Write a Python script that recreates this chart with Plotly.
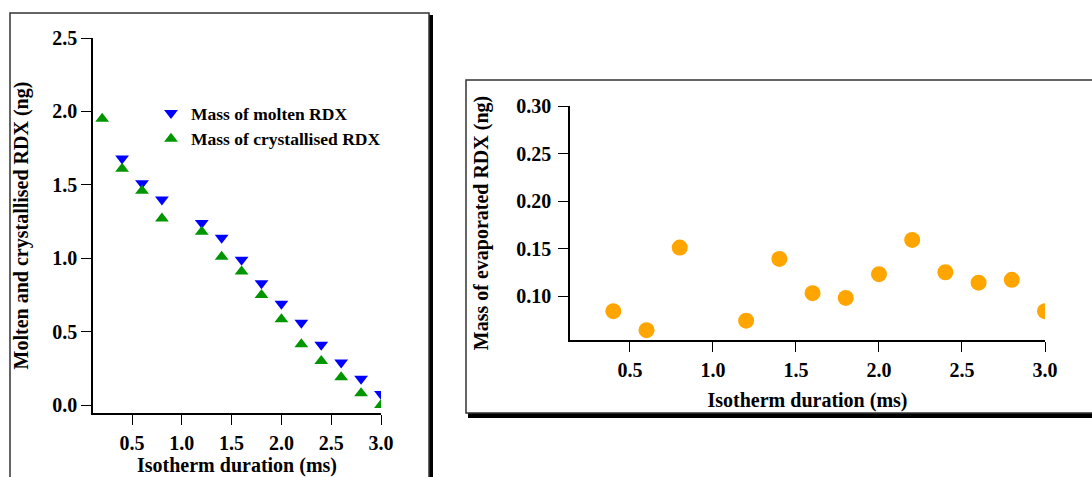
import plotly.graph_objects as go

# ---- data ----
x_molten = [0.4, 0.6, 0.8, 1.2, 1.4, 1.6, 1.8, 2.0, 2.2, 2.4, 2.6, 2.8, 3.0]
mass_molten = [1.68, 1.51, 1.40, 1.24, 1.14, 0.99, 0.83, 0.69, 0.56, 0.41, 0.29, 0.18, 0.075]

x_cryst = [0.2, 0.4, 0.6, 0.8, 1.2, 1.4, 1.6, 1.8, 2.0, 2.2, 2.4, 2.6, 2.8, 3.0]
mass_cryst = [1.95, 1.61, 1.46, 1.27, 1.18, 1.01, 0.91, 0.75, 0.585, 0.415, 0.30, 0.19, 0.08, 0.0]

x_evap = [0.4, 0.6, 0.8, 1.2, 1.4, 1.6, 1.8, 2.0, 2.2, 2.4, 2.6, 2.8, 3.0]
mass_evap = [0.084, 0.064, 0.151, 0.074, 0.139, 0.103, 0.098, 0.123, 0.159, 0.125, 0.114, 0.117, 0.084]

x_ticks = [0.5, 1.0, 1.5, 2.0, 2.5, 3.0]
y1_ticks = [0.0, 0.5, 1.0, 1.5, 2.0, 2.5]
y2_ticks = [0.10, 0.15, 0.20, 0.25, 0.30]

W, H = 1092, 477
def px(x):
    return x / W
def py(y):
    return 1 - y / H

FONT = "Liberation Serif"
tickfont = dict(family=FONT, size=20, color="black", weight="bold")
titlefont = dict(family=FONT, size=20, color="black", weight="bold")

fig = go.Figure()
fig.add_trace(go.Scatter(
    x=x_molten, y=mass_molten, mode="markers", name="Mass of molten RDX",
    marker=dict(symbol="triangle-down", size=12, color="#0000FF"),
    xaxis="x", yaxis="y"))
fig.add_trace(go.Scatter(
    x=x_cryst, y=mass_cryst, mode="markers", name="Mass of crystallised RDX",
    marker=dict(symbol="triangle-up", size=12, color="#009600"),
    xaxis="x", yaxis="y"))
fig.add_trace(go.Scatter(
    x=x_evap, y=mass_evap, mode="markers", name="Mass of evaporated RDX",
    marker=dict(symbol="circle", size=16, color="#FFA500"),
    showlegend=False, xaxis="x2", yaxis="y2"))

axis_common = dict(showline=True, linecolor="black", linewidth=1.5,
                   ticks="outside", ticklen=10, tickwidth=1.2, tickcolor="black",
                   showgrid=False, zeroline=False, tickfont=tickfont,
                   mirror=False, automargin=False)

fig.update_layout(
    template="none",
    width=W, height=H,
    margin=dict(l=0, r=0, t=0, b=0, pad=0),
    paper_bgcolor="white", plot_bgcolor="rgba(0,0,0,0)",
    xaxis=dict(domain=[px(93), px(381)], range=[0.108, 3.0], anchor="y",
               tickvals=x_ticks, ticktext=[f"{v:.1f}" for v in x_ticks],
               ticklabelstandoff=1,
               title=dict(text="Isotherm duration (ms)", font=titlefont, standoff=9),
               **axis_common),
    yaxis=dict(domain=[py(413), py(38)], range=[-0.054, 2.5], anchor="x",
               tickvals=y1_ticks, ticktext=[f"{v:.1f}" for v in y1_ticks],
               ticklabelstandoff=0,
               title=dict(text="Molten and crystallised RDX (ng)", font=titlefont, standoff=18),
               **axis_common),
    xaxis2=dict(domain=[px(570), px(1045)], range=[0.139, 3.0], anchor="y2",
                tickvals=x_ticks, ticktext=[f"{v:.1f}" for v in x_ticks],
                ticklabelstandoff=1,
                title=dict(text="Isotherm duration (ms)", font=titlefont, standoff=13),
                **axis_common),
    yaxis2=dict(domain=[py(340), py(106)], range=[0.0537, 0.30], anchor="x2",
                tickvals=y2_ticks, ticktext=[f"{v:.2f}" for v in y2_ticks],
                ticklabelstandoff=3,
                title=dict(text="Mass of evaporated RDX (ng)", font=titlefont, standoff=22),
                **axis_common),
    legend=dict(x=px(151), y=py(95), xanchor="left", yanchor="top",
                bgcolor="rgba(0,0,0,0)", borderwidth=0,
                font=dict(family=FONT, size=17.5, color="black", weight="bold"),
                tracegroupgap=0, itemsizing="constant"),
    showlegend=True,
)

# frames with drop shadows
shapes = [
    dict(type="rect", xref="paper", yref="paper",
         x0=px(429), x1=px(433), y0=py(490), y1=py(15),
         fillcolor="black", line=dict(width=0), layer="below"),
    dict(type="rect", xref="paper", yref="paper",
         x0=px(10), x1=px(429), y0=py(490), y1=py(13),
         fillcolor="white", line=dict(color="#333333", width=1.5), layer="below"),
    dict(type="rect", xref="paper", yref="paper",
         x0=px(468), x1=px(1100), y0=py(418), y1=py(413),
         fillcolor="black", line=dict(width=0), layer="below"),
    dict(type="rect", xref="paper", yref="paper",
         x0=px(466), x1=px(1100), y0=py(413), y1=py(80),
         fillcolor="white", line=dict(color="#333333", width=1.5), layer="below"),
]
fig.update_layout(shapes=shapes)

fig.write_html(
    "out.html",
    config={"displayModeBar": False},
    post_script="document.body.style.margin='0';document.body.style.overflow='hidden';",
)
